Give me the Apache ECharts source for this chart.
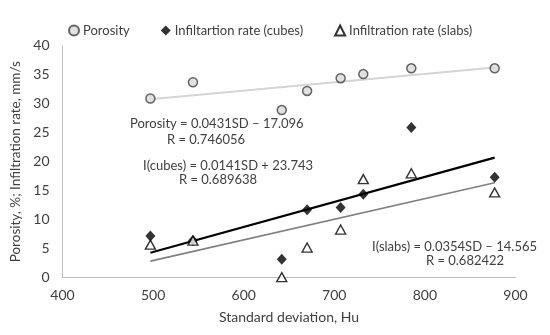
<!DOCTYPE html>
<html><head><meta charset="utf-8">
<script src="https://cdn.jsdelivr.net/npm/echarts@6/dist/echarts.min.js"></script>
<style>html,body{margin:0;padding:0;background:#fff}#c{width:550px;height:335px}</style>
</head><body><div id="c"></div>
<script>
const sd = [497, 544, 642, 670, 707, 732, 785, 877];
const porosity = [30.9, 33.7, 28.9, 32.2, 34.4, 35.1, 36.1, 36.1];
const cubes = [7.2, 6.4, 3.2, 11.7, 12.1, 14.4, 25.9, 17.3];
const slabs = [5.7, 6.4, 0.1, 5.2, 8.3, 17.0, 18.0, 14.7];
const seriesNames = ['Porosity', 'Infiltartion rate (cubes)', 'Infiltration rate (slabs)'];
const xTicks = [400, 500, 600, 700, 800, 900];
const yTicks = [0, 5, 10, 15, 20, 25, 30, 35, 40];
const eqTexts = [
  ['Porosity = 0.0431SD \u2013 17.096', 'R = 0.746056'],
  ['I(cubes) = 0.0141SD + 23.743', 'R = 0.689638'],
  ['I(slabs) = 0.0354SD \u2013 14.565', 'R = 0.682422']
];

function pairs(ys){ return sd.map((x,i)=>[x,ys[i]]); }
function fitLine(ys){
  const n = sd.length;
  const mx = sd.reduce((a,b)=>a+b,0)/n, my = ys.reduce((a,b)=>a+b,0)/n;
  let sxy=0, sxx=0;
  for(let i=0;i<n;i++){ sxy+=(sd[i]-mx)*(ys[i]-my); sxx+=(sd[i]-mx)*(sd[i]-mx); }
  const b = sxy/sxx, a = my - b*mx;
  const x0 = Math.min(...sd), x1 = Math.max(...sd);
  return [[x0, a+b*x0],[x1, a+b*x1]];
}

const font = 'Lato, "Open Sans", sans-serif';
const chart = echarts.init(document.getElementById('c'), null, {renderer:'canvas'});
function txt(s, x, y, align){
  return {type:'text', x:x, y:y, style:{text:s, fontFamily:font, fontSize:13, fill:'#404040',
    textAlign:align, textVerticalAlign:'middle'}};
}
chart.setOption({
  animation: false,
  textStyle: {fontFamily: font},
  grid: {left: 62.5, right: 34.5, top: 45.7, bottom: 57.3},
  legend: {
    top: 19, left: 63,
    itemGap: 31, itemWidth: 10, itemHeight: 10,
    textStyle: {fontFamily: font, fontSize: 13, color: '#404040', padding:[0,0,0,-1]},
    data: seriesNames
  },
  xAxis: {
    type: 'value', min: xTicks[0], max: xTicks[xTicks.length-1], interval: 100,
    name: 'Standard deviation, Hu', nameLocation: 'middle', nameGap: 33,
    nameTextStyle: {fontFamily: font, fontSize: 14, color: '#404040'},
    axisLine: {lineStyle: {color: '#bfbfbf', width: 1}},
    axisTick: {show: false}, splitLine: {show: false},
    axisLabel: {fontFamily: font, fontSize: 14, color: '#404040', margin: 11}
  },
  yAxis: {
    type: 'value', min: yTicks[0], max: yTicks[yTicks.length-1], interval: 5,
    name: 'Porosity, %; Infiltration rate, mm/s', nameLocation: 'middle', nameGap: 34,
    nameTextStyle: {fontFamily: font, fontSize: 13.5, color: '#404040'},
    axisLine: {show: true, lineStyle: {color: '#bfbfbf', width: 1}},
    axisTick: {show: false}, splitLine: {show: false},
    axisLabel: {fontFamily: font, fontSize: 14, color: '#404040', margin: 13}
  },
  series: [
    {type:'line', data: fitLine(porosity), symbol:'none', lineStyle:{color:'#d4d4d4', width:2}, z:1, silent:true},
    {type:'line', data: fitLine(cubes), symbol:'none', lineStyle:{color:'#000', width:2.2}, z:1, silent:true},
    {type:'line', data: fitLine(slabs), symbol:'none', lineStyle:{color:'#808080', width:1.6}, z:1, silent:true},
    {name: seriesNames[0], type:'scatter', data: pairs(porosity), symbol:'circle', symbolSize:9,
     itemStyle:{color:'#d9d9d9', borderColor:'#404040', borderWidth:1.5}, z:3},
    {name: seriesNames[1], type:'scatter', data: pairs(cubes), symbol:'diamond', symbolSize:[10,11],
     itemStyle:{color:'#000'}, z:3},
    {name: seriesNames[2], type:'scatter', data: pairs(slabs), symbol:'triangle', symbolSize:[10,9],
     itemStyle:{color:'#fff', borderColor:'#000', borderWidth:1.4}, z:4}
  ],
  graphic: [
    txt(eqTexts[0][0], 130, 124, 'left'),
    txt(eqTexts[0][1], 206, 140, 'center'),
    txt(eqTexts[1][0], 143, 166, 'left'),
    txt(eqTexts[1][1], 218, 180, 'center'),
    txt(eqTexts[2][0], 537, 247, 'right'),
    txt(eqTexts[2][1], 465, 261, 'center')
  ]
});
</script></body></html>
